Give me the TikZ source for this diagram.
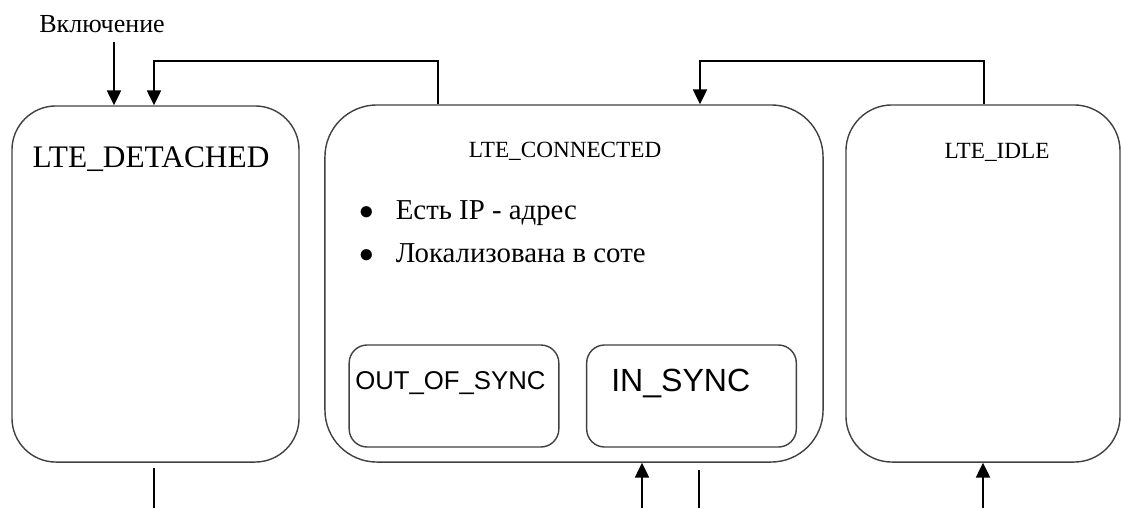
\documentclass[tikz,border=0pt]{standalone}
\usepackage{fontspec}
\setmainfont{Liberation Serif}
\newfontfamily\arialfont{Liberation Sans}
\usetikzlibrary{arrows.meta}

\begin{document}
\begin{tikzpicture}[x=0.025cm,y=-0.025cm,
    state/.style={draw=black!75, line width=1pt, rectangle, inner sep=0pt},
    sub state/.style={draw=black!75, line width=1pt, rectangle, rounded corners=0.45cm, inner sep=0pt, minimum width=5.24cm, minimum height=2.55cm},
    title/.style={inner sep=0pt, anchor=base, font=\rmfamily\fontsize{16.5pt}{19pt}\selectfont},
    item/.style={inner sep=0pt, anchor=base west, font=\rmfamily\fontsize{20.5pt}{24pt}\selectfont},
    sans/.style={inner sep=0pt, anchor=base west, font=\arialfont},
    arr/.style={-{Triangle[length=0.37cm,width=0.35cm]}, line width=1.3pt},
    wire/.style={line width=1.3pt}]
	\useasboundingbox (0,0) rectangle (1121,508);
	% States
	\node[state, rounded corners=1.1cm, minimum width=7.175cm, minimum height=8.9cm] (det) at (155.5,284) {};
	\node[state, rounded corners=1.3cm, minimum width=12.45cm, minimum height=8.925cm] (con) at (574,283.5) {};
	\node[state, rounded corners=1.15cm, minimum width=6.85cm, minimum height=8.925cm] (idle) at (983,283.5) {};
	\node[sub state] (oos) at (454,396) {};
	\node[sub state] (ins) at (691.5,396) {};
	
	% Texts
	\node[title, font=\rmfamily\fontsize{22.3pt}{26pt}\selectfont] (tdet) at (151,167) {LTE\_DETACHED};
	\node[title] (tcon) at (565,157) {LTE\_CONNECTED};
	\node[title] (tidle) at (997,158) {LTE\_IDLE};
	\node[item] (ip) at (359,219) {\makebox[26pt][l]{$\bullet$}Есть IP - адрес};
	\node[item] (cell) at (359,262) {\makebox[26pt][l]{$\bullet$}Локализована в соте};
	\node[sans, font=\arialfont\fontsize{18.3pt}{22pt}\selectfont] (toos) at (355,389) {OUT\_OF\_SYNC};
	\node[sans, font=\arialfont\fontsize{22.8pt}{27pt}\selectfont] (tins) at (611,391) {IN\_SYNC};
	\node[inner sep=0pt, anchor=base west, font=\rmfamily\fontsize{18.5pt}{21pt}\selectfont] (pwr) at (39,32) {Включение};
	
	% Connectors
	\coordinate (on) at (114,42);
	\coordinate (c1) at (438,61);
	\coordinate (c2) at (154,61);
	\coordinate (c3) at (984,61);
	\coordinate (c4) at (700,61);
	\coordinate (b1) at (154,508);
	\coordinate (b2) at (642,508);
	\coordinate (b3) at (699,508);
	\coordinate (b4) at (983,508);
	
	\draw[arr] (on) -- (on |- det.north);
	\draw[arr] (c1 |- con.north) -- (c1) -- (c2) -- (c2 |- det.north);
	\draw[arr] (c3 |- idle.north) -- (c3) -- (c4) -- (c4 |- con.north);
	\draw[wire] ([yshift=-4pt]b1 |- det.south) -- (b1);
	\draw[arr] (b2) -- (b2 |- con.south);
	\draw[wire] ([yshift=-5pt]b3 |- con.south) -- (b3);
	\draw[arr] (b4) -- (b4 |- idle.south);
	
\end{tikzpicture}
\end{document}
